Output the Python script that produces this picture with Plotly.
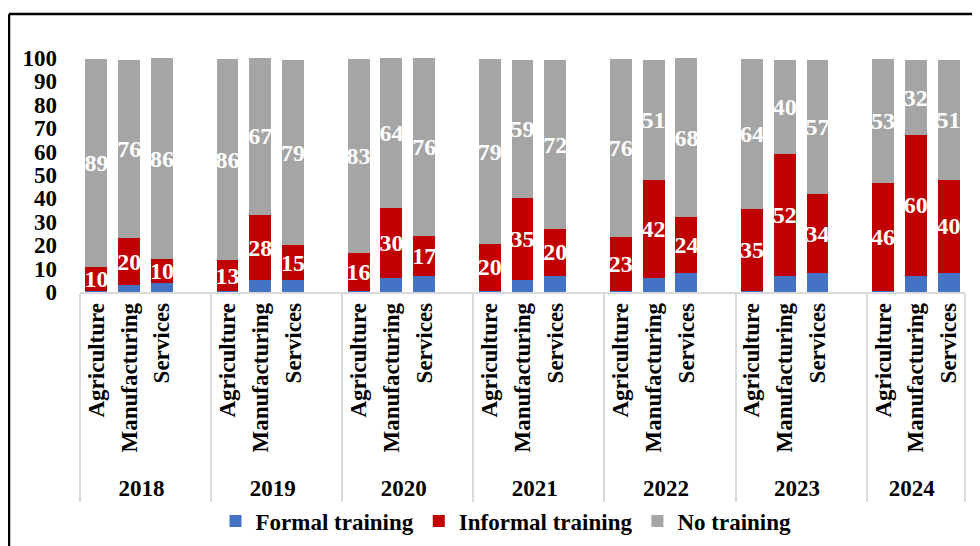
import plotly.graph_objects as go

years = ["2018", "2019", "2020", "2021", "2022", "2023", "2024"]
sectors = ["Agriculture", "Manufacturing", "Services"]

# values per year: [Agriculture, Manufacturing, Services]
formal = [[0.5, 3, 4], [0.5, 5, 5], [0.5, 6, 7], [0.5, 5, 7], [0.5, 6, 8], [0.5, 7, 8], [0.5, 7, 8]]
informal = [[10, 20, 10], [13, 28, 15], [16, 30, 17], [20, 35, 20], [23, 42, 24], [35, 52, 34], [46, 60, 40]]
no_training = [[89, 76, 86], [86, 67, 79], [83, 64, 76], [79, 59, 72], [76, 51, 68], [64, 40, 57], [53, 32, 51]]

series_names = ["Formal training", "Informal training", "No training"]
colors = ["#4472C4", "#C00000", "#A5A5A5"]

# Build multicategory x with an empty spacer slot after each year except the last
outer, inner = [], []
def flatten(vals):
    out = []
    for i, y in enumerate(years):
        out.extend(vals[i])
        if i < len(years) - 1:
            out.append(None)
    return out

for i, y in enumerate(years):
    for s in sectors:
        outer.append(y)
        inner.append(s)
    if i < len(years) - 1:
        outer.append(y)
        inner.append(" ")

FONT = "Liberation Serif"
fig = go.Figure()
for name, vals, col, show in zip(series_names, [formal, informal, no_training], colors, [False, True, True]):
    v = flatten(vals)
    txt = [("" if (x is None or not show) else str(int(round(x)))) for x in v]
    fig.add_trace(go.Bar(
        x=[outer, inner], y=v, name=name,
        marker=dict(color=col, line=dict(width=0)),
        text=txt, textposition="inside", insidetextanchor="middle",
        constraintext="none", cliponaxis=False,
        textfont=dict(family=FONT, size=24, color="white", weight="bold"),
        hoverinfo="skip",
    ))

# page has an 8px body margin: figure coordinates = page coordinates - 8
OFF = 8
W, H = 980 - OFF, 546 - OFF
L, T = 80 - OFF, 58 - OFF
R = W - (965 - OFF)
B = H - (292 - OFF)
pw, ph = W - L - R, H - T - B

def px_x(p):  # page x -> paper x
    return (p - OFF - L) / pw

def px_y(p):  # page y -> paper y
    return (T + ph - (p - OFF)) / ph

fig.update_layout(
    width=W, height=H, barmode="stack", bargap=0.33,
    margin=dict(l=L, r=R, t=T, b=B, pad=0, autoexpand=False),
    plot_bgcolor="white", paper_bgcolor="white",
    font=dict(family=FONT, size=23, color="black", weight="bold"),
    legend=dict(orientation="h", x=px_x(506), xanchor="center", y=px_y(521), yanchor="middle",
                font=dict(family=FONT, size=23, weight="bold"), itemwidth=30, traceorder="normal",
                bgcolor="rgba(0,0,0,0)"),
    xaxis=dict(type="multicategory", tickangle=-90, showline=True, linecolor="#D9D9D9", linewidth=1.5,
               showdividers=True, dividercolor="#D9D9D9", dividerwidth=1.5, ticks="", automargin=False,
               range=[-0.5, 26.5],
               tickfont=dict(family=FONT, size=23, weight="bold"), showgrid=False),
    yaxis=dict(range=[0, 100], dtick=10, showgrid=False, zeroline=False, showline=False, ticks="",
               automargin=False,
               tickfont=dict(family=FONT, size=23, weight="bold"), ticklabelstandoff=22),
    shapes=[
        dict(type="line", xref="paper", yref="paper", x0=px_x(9), x1=px_x(1000),
             y0=px_y(14), y1=px_y(14), line=dict(color="black", width=2.5)),
        dict(type="line", xref="paper", yref="paper", x0=px_x(9), x1=px_x(9),
             y0=px_y(14), y1=px_y(560), line=dict(color="black", width=2.5)),
    ],
)

fig.write_html("out.html")
